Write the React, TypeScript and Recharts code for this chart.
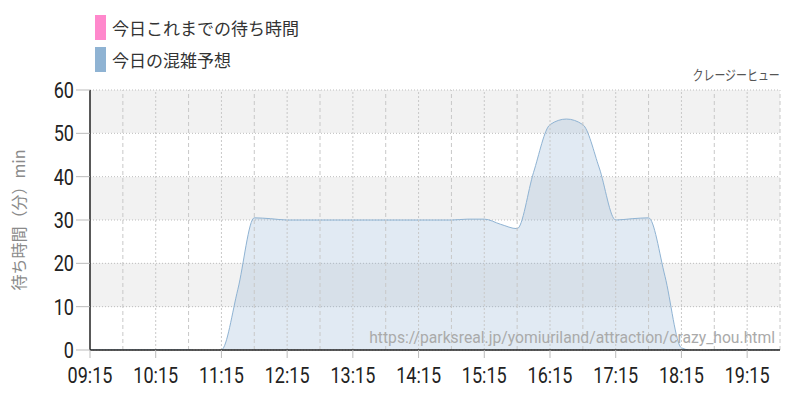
import { Area, AreaChart, CartesianGrid, ReferenceLine, XAxis, YAxis } from 'recharts'

// time of day in minutes, one point every 15 min from 09:15 to 19:45
const times = [
  555, 570, 585, 600, 615, 630, 645, 660, 675, 690, 705, 720, 735, 750, 765, 780,
  795, 810, 825, 840, 855, 870, 885, 900, 915, 930, 945, 960, 975, 990, 1005,
  1020, 1035, 1050, 1065, 1080, 1095, 1110, 1125, 1140, 1155, 1170, 1185,
]

// 今日の混雑予想 (minutes)
const forecast = [
  0, 0, 0, 0, 0, 0, 0, -0.5, 0, 14, 30.5, 30.3, 30, 30, 30, 30,
  30, 30, 30, 30, 30, 30, 30, 30.2, 30.2, 29, 28, 41, 52, 53.3, 52,
  42, 30, 30.3, 30.5, 17, 0.5, -0.3, 0, 0, 0, 0, 0,
]

// 今日これまでの待ち時間 (no values yet)
const actual: (number | null)[] = times.map(() => null)

const hourTicks = [555, 615, 675, 735, 795, 855, 915, 975, 1035, 1095, 1155]
const halfHourLines = [585, 645, 705, 765, 825, 885, 945, 1005, 1065, 1125, 1185]
const yTicks = [0, 10, 20, 30, 40, 50, 60]

const legendItems = [
  { label: '今日これまでの待ち時間', color: '#ff88cc' },
  { label: '今日の混雑予想', color: '#8fb3d3' },
]

const data = times.map((t, i) => ({ t, forecast: forecast[i], actual: actual[i] }))

const fmtTime = (v: number) => {
  const h = Math.floor(v / 60)
  const m = v % 60
  return `${String(h).padStart(2, '0')}:${String(m).padStart(2, '0')}`
}

// condensed tick text (no narrow font installed, so squeeze Roboto)
function NarrowTick(props: any) {
  const { x, y, payload, textAnchor, fmt, dy } = props
  const label = fmt ? fmt(payload.value) : String(payload.value)
  return (
    <g transform={`translate(${x},${y}) scale(0.82,1)`}>
      <text
        x={0}
        y={0}
        dy={dy}
        textAnchor={textAnchor}
        fontFamily='Roboto, sans-serif'
        fontSize={22}
        fill='#222'
      >
        {label}
      </text>
    </g>
  )
}

export default function App() {
  return (
    <div style={{ position: 'absolute', left: 0, top: 0, width: 800, height: 400, background: '#fff' }}>
      <AreaChart width={800} height={400} data={data} margin={{ top: 90, right: 20, bottom: 0, left: 0 }}>
        <CartesianGrid
          vertical={false}
          stroke='#bdbdbd'
          strokeDasharray='1 2'
          horizontalFill={['#f2f2f2', '#ffffff']}
          fillOpacity={1}
        />
        {halfHourLines.map((x) => (
          <ReferenceLine key={x} x={x} stroke='#c8c8c8' strokeDasharray='4 3' />
        ))}
        {hourTicks.slice(1).map((x) => (
          <ReferenceLine key={'h' + x} x={x} stroke='#c8c8c8' strokeDasharray='2 2' />
        ))}
        <XAxis
          dataKey='t'
          type='number'
          domain={[555, 1185]}
          ticks={hourTicks}
          tickFormatter={fmtTime}
          interval={0}
          height={50}
          tickSize={8}
          tick={<NarrowTick fmt={fmtTime} dy={23} />}
          tickLine={{ stroke: '#bbbbbb' }}
          axisLine={{ stroke: '#222', strokeWidth: 1.5 }}
        />
        <YAxis
          domain={[0, 60]}
          ticks={yTicks}
          allowDataOverflow
          width={90}
          tickSize={14}
          tick={<NarrowTick dy={8} />}
          tickLine={{ stroke: '#bbbbbb' }}
          axisLine={{ stroke: '#222', strokeWidth: 1.5 }}
          label={{
            value: '待ち時間（分）min',
            angle: -90,
            position: 'insideLeft',
            offset: 19,
            style: { textAnchor: 'middle', fill: '#8a8a8a', fontSize: 16, fontFamily: '"Noto Sans CJK JP", sans-serif' },
          }}
        />
        <Area
          type='monotone'
          dataKey='forecast'
          stroke='#8fb3d3'
          strokeWidth={1}
          fill='#8fb3d3'
          fillOpacity={0.27}
          isAnimationActive={false}
        />
        <Area
          type='monotone'
          dataKey='actual'
          stroke='#ff88cc'
          fill='#ff88cc'
          fillOpacity={0.3}
          isAnimationActive={false}
        />
      </AreaChart>

      <div style={{ position: 'absolute', left: 95, top: 15, fontFamily: '"Noto Sans CJK JP", sans-serif', fontSize: 17, color: '#333' }}>
        {legendItems.map((it) => (
          <div key={it.label} style={{ display: 'flex', alignItems: 'center', height: 25, marginBottom: 7 }}>
            <span style={{ display: 'inline-block', width: 11, height: 25, background: it.color, marginRight: 6 }} />
            <span>{it.label}</span>
          </div>
        ))}
      </div>

      <div
        style={{
          position: 'absolute',
          right: 20,
          top: 64,
          fontFamily: '"Noto Sans CJK JP", sans-serif',
          fontSize: 14,
          color: '#555',
          transform: 'scaleX(0.78)',
          transformOrigin: 'right center',
        }}
      >
        クレージーヒュー
      </div>

      <div style={{ position: 'absolute', right: 25, top: 328, fontFamily: 'Roboto, sans-serif', fontSize: 15.7, color: '#aaa' }}>
        https://parksreal.jp/yomiuriland/attraction/crazy_hou.html
      </div>
    </div>
  )
}
